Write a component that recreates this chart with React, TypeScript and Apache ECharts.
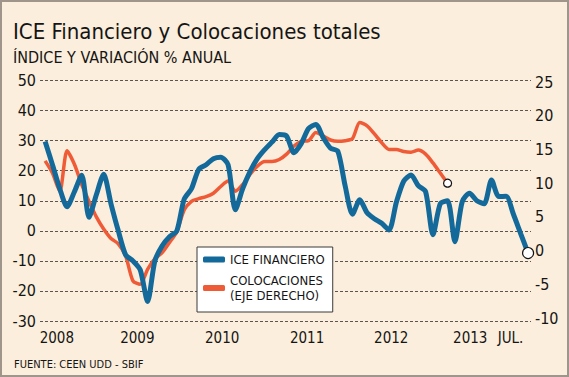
import React, { useEffect, useRef } from "react";
import * as echarts from "echarts";

// Monthly values, index 0 = Jan 2008
const iceFinanciero = [
  29.7, 22, 14, 8, 13, 18.5, 4.5, 12, 18.8, 9,
  0, -8, -10, -13, -23.5, -10, -5, -2, 0, 10.5,
  14, 20.5, 22, 24, 24.5, 22, 7, 14, 19.7, 24,
  27, 29.5, 32, 31.5, 26, 29, 34, 35.4, 31, 27.5,
  26.5, 15, 5.5, 10.3, 6, 4, 2.5, 0.3, 9.5, 16.5,
  18.6, 15, 13, -1.3, 9, 10, -3.6, 9.7, 12.5, 10,
  9, 16.9, 11.4, 11.5, 5.5, -1, -7.4,
];
const colocaciones = [
  13.3, 11.5, 8.8, 14.8, 12.8, 9.8, 7.3, 5.0, 3.2, 1.8,
  1.0, -0.8, -4.5, -5.0, -2.8, -1.2, -0.3, 1.2, 2.8, 6.0,
  7.3, 7.7, 8.0, 8.5, 9.5, 10.3, 8.8, 9.8, 11.3, 12.5,
  13.2, 13.2, 13.5, 14.3, 15.5, 16.2, 16.3, 17.5, 17.0, 16.4,
  16.2, 16.3, 16.6, 19.0, 18.5, 17.3, 16.0, 15.0, 15.0, 14.7,
  14.6, 14.9, 14.3, 13.0, 11.5, 10.0,
];
const xLabelValues = [1.6, 12.6, 24.2, 35.8, 47.3, 58.1, 63.6];
const xLabelTexts = ["2008", "2009", "2010", "2011", "2012", "2013", "JUL."];
const leftTicks = { min: -30, max: 50, interval: 10 };
const rightTicks = { min: -10, max: 25, interval: 5 };

const FONT = '"DejaVu Sans Condensed", "DejaVu Sans", sans-serif';
const BLUE = "#13699a";
const ORANGE = "#ef5b37";
const INK = "#151515";

function endPoint(data: number[], size: number) {
  return data.map((v, i) =>
    i === data.length - 1
      ? {
          value: [i, v],
          symbol: "circle",
          symbolSize: size,
          itemStyle: { color: "#ffffff", borderColor: "#111", borderWidth: 1.2 },
        }
      : { value: [i, v] }
  );
}

export default function App() {
  const ref = useRef<HTMLDivElement>(null);
  useEffect(() => {
    if (!ref.current) return;
    const chart = echarts.init(ref.current, null, { renderer: "svg" });
    const xCommon = {
      type: "value" as const,
      min: -0.7,
      max: 66.4,
      axisLine: { show: false },
      axisTick: { show: false },
      splitLine: { show: false },
    };
    chart.setOption({
      animation: false,
      backgroundColor: "#fbeedc",
      textStyle: { fontFamily: FONT },
      title: [
        {
          text: "ICE Financiero y Colocaciones totales",
          subtext: "ÍNDICE Y VARIACIÓN % ANUAL",
          left: 8,
          top: 15,
          itemGap: 7,
          textStyle: { fontSize: 22, fontWeight: "normal", color: INK, fontFamily: FONT },
          subtextStyle: { fontSize: 16, color: INK, fontFamily: FONT },
        },
        {
          text: "FUENTE: CEEN UDD - SBIF",
          left: 9,
          top: 354,
          textStyle: { fontSize: 11, fontWeight: "normal", color: INK, fontFamily: FONT },
        },
      ],
      grid: [
        { left: 40, right: 38, top: 80.5, bottom: 56 },
        { left: 40, right: 38, top: 82, bottom: 59 },
      ],
      xAxis: [
        {
          ...xCommon,
          gridIndex: 0,
          axisLabel: {
            customValues: xLabelValues,
            margin: 9,
            fontSize: 15,
            color: INK,
            fontFamily: FONT,
            formatter: (v: number) => {
              const i = xLabelValues.findIndex((p) => Math.abs(p - v) < 1e-6);
              return i >= 0 ? xLabelTexts[i] : "";
            },
          },
        },
        { ...xCommon, gridIndex: 1, show: false },
      ],
      yAxis: [
        {
          type: "value",
          gridIndex: 0,
          ...leftTicks,
          axisLine: { show: false },
          axisTick: { show: false },
          axisLabel: { fontSize: 16, color: INK, margin: 4, fontFamily: FONT },
          splitLine: { lineStyle: { type: [3, 2], color: "#5a5550", width: 1 } },
        },
        {
          type: "value",
          gridIndex: 1,
          position: "right",
          ...rightTicks,
          axisLine: { show: false },
          axisTick: { show: false },
          axisLabel: { fontSize: 16, color: INK, margin: 4, fontFamily: FONT },
          splitLine: { show: false },
        },
      ],
      legend: {
        orient: "vertical",
        left: 197,
        top: 247,
        backgroundColor: "#ffffff",
        borderColor: "#3a3a3a",
        borderWidth: 1,
        borderRadius: 0,
        padding: [5, 8, 3, 6],
        itemGap: 0,
        itemWidth: 22,
        itemHeight: 6,
        textStyle: { fontSize: 13, color: INK, lineHeight: 15, fontFamily: FONT },
        data: [
          { name: "ICE FINANCIERO", icon: "roundRect", itemStyle: { color: BLUE } },
          {
            name: "COLOCACIONES\n(EJE DERECHO)",
            icon: "roundRect",
            itemStyle: { color: ORANGE },
            textStyle: { padding: [12, 0, 0, 0] },
          },
        ],
      },
      series: [
        {
          name: "COLOCACIONES\n(EJE DERECHO)",
          type: "line",
          xAxisIndex: 1,
          yAxisIndex: 1,
          data: endPoint(colocaciones, 8),
          symbol: "none",
          showSymbol: true,
          smooth: 0.25,
          lineStyle: { color: ORANGE, width: 3.5 },
          itemStyle: { color: ORANGE },
          z: 2,
        },
        {
          name: "ICE FINANCIERO",
          type: "line",
          xAxisIndex: 0,
          yAxisIndex: 0,
          data: endPoint(iceFinanciero, 11),
          symbol: "none",
          showSymbol: true,
          smooth: 0.25,
          lineStyle: { color: BLUE, width: 5 },
          itemStyle: { color: BLUE },
          z: 3,
        },
      ],
    });
    return () => chart.dispose();
  }, []);
  return (
    <div style={{ position: "fixed", left: 0, top: 0, width: 569, height: 377 }}>
      <div ref={ref} style={{ position: "absolute", left: 0, top: 0, width: 569, height: 377 }} />
      <div
        style={{
          position: "absolute",
          left: 0,
          top: 0,
          width: 569,
          height: 377,
          boxSizing: "border-box",
          border: "2px solid #a0958a",
          pointerEvents: "none",
        }}
      />
    </div>
  );
}
